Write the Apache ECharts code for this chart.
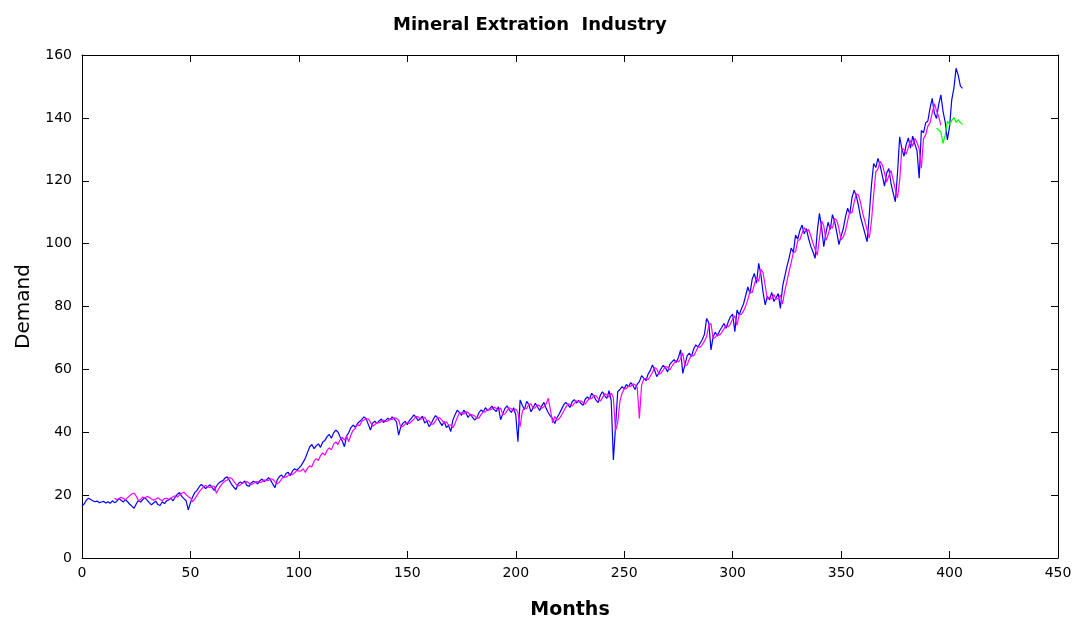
<!DOCTYPE html>
<html>
<head>
<meta charset="utf-8">
<script src="https://cdn.jsdelivr.net/npm/echarts@6/dist/echarts.min.js"></script>
<style>
html,body{margin:0;padding:0;background:#fff;}
#chart{width:1078px;height:621px;}
</style>
</head>
<body>
<div id="chart"></div>
<script>
// Actual demand (blue), months 0..406
const actualStart = 0;
const actual = [
16.5,17.2,18.4,19.0,18.6,18.2,17.9,18.1,17.6,17.8,
18.0,17.5,17.9,17.4,18.2,17.6,18.0,18.9,18.4,17.8,
18.6,17.9,17.1,16.5,15.8,17.2,18.3,17.8,18.6,19.2,
18.4,17.6,16.9,17.5,18.1,17.0,16.7,17.9,17.3,18.2,
18.5,19.0,18.2,19.4,20.3,20.8,19.6,18.9,18.2,15.3,
17.6,19.4,20.8,21.5,22.6,23.4,22.8,22.1,22.7,23.3,
22.4,21.5,22.9,23.8,24.3,24.6,25.5,25.8,24.6,23.4,
22.5,21.8,23.6,24.2,23.7,24.5,23.1,22.8,23.9,24.4,
24.1,23.6,24.6,25.1,24.3,24.8,25.6,24.7,23.5,22.4,
24.8,25.9,26.4,25.5,26.8,27.3,26.2,27.6,28.4,27.9,
28.6,29.4,30.5,31.8,33.6,35.4,36.1,34.8,35.7,36.3,
35.2,36.9,37.4,38.6,39.3,38.1,39.8,40.7,40.1,38.6,
37.2,35.4,38.8,39.9,41.5,42.3,41.6,42.8,43.4,44.1,
44.9,44.3,42.5,40.7,42.9,43.5,42.8,43.6,44.2,43.1,
43.8,44.5,43.9,44.9,44.2,43.3,39.1,41.8,42.9,43.5,
42.4,43.8,44.6,45.5,44.8,43.7,44.3,45.1,42.9,43.6,
41.8,42.7,44.2,45.3,44.6,43.2,42.1,43.4,41.5,42.2,
40.2,43.9,45.6,47.0,46.3,45.4,47.0,46.2,44.7,45.8,
44.8,43.9,44.5,46.2,47.1,46.5,47.8,46.9,47.5,48.3,
47.2,46.6,48.1,44.0,45.9,47.6,48.4,47.1,46.3,47.8,
45.5,37.0,50.3,48.6,47.2,49.8,48.9,46.5,47.8,49.2,
48.1,46.9,48.4,49.5,47.6,46.2,45.1,44.3,42.8,44.6,
45.8,47.2,48.6,49.5,48.8,47.9,49.7,50.4,49.3,50.1,
49.2,48.6,50.5,51.2,50.6,52.4,51.5,50.2,49.4,51.8,
52.9,51.6,50.8,53.2,50.1,31.2,41.8,52.9,53.6,54.5,
53.8,55.2,54.4,55.8,54.9,53.6,55.3,56.1,58.0,57.2,
56.4,58.5,59.6,61.4,59.8,57.7,58.9,60.2,61.3,60.5,
59.2,61.6,62.4,63.1,62.2,63.8,66.2,58.7,61.5,64.3,
65.2,64.1,66.4,67.8,67.1,68.3,69.5,71.2,76.2,74.8,
66.2,70.4,71.8,70.6,72.3,73.4,74.6,73.1,75.2,76.8,
77.6,72.0,78.9,77.4,79.2,80.8,83.5,86.2,84.1,88.7,
90.5,87.4,93.7,90.2,84.6,80.5,83.2,82.1,84.5,81.6,
82.8,84.1,79.4,86.3,89.5,92.7,95.4,98.6,97.2,102.7,
101.4,104.2,105.9,103.1,104.8,101.6,99.2,97.4,95.3,103.8,
109.6,105.2,99.0,103.4,106.8,104.5,109.2,107.1,103.6,99.7,
102.4,104.8,108.5,111.3,109.4,114.6,117.0,115.2,112.1,108.3,
105.8,103.2,100.6,109.4,118.7,125.5,124.2,127.1,124.8,121.6,
118.3,122.5,123.9,119.2,116.1,113.3,122.4,134.0,130.2,127.8,
131.5,133.6,130.4,134.2,131.7,129.5,120.8,136.0,135.2,138.4,
139.0,143.1,146.2,141.5,139.8,144.3,147.3,142.1,138.6,133.0,
137.2,145.7,149.4,155.8,153.6,150.1,149.4
];

// Fitted demand (magenta), months 15..396
const fittedStart = 15;
const fitted = [
19.0,18.6,18.9,19.3,19.0,18.5,
19.2,19.8,20.4,20.6,19.7,18.2,18.6,19.4,19.1,19.6,
19.3,18.8,18.4,18.7,19.2,18.6,18.2,18.9,19.0,18.7,
19.1,19.5,19.8,19.4,20.1,20.6,20.9,20.2,19.5,19.1,
17.9,18.8,19.9,21.0,21.8,22.6,23.1,22.6,22.4,22.9,
22.8,20.6,22.0,23.1,23.9,24.5,24.8,25.6,25.3,24.4,
23.5,22.9,23.2,24.0,24.1,24.3,23.8,23.3,23.7,24.2,
24.3,24.0,24.2,24.8,24.6,24.7,25.2,25.0,24.2,23.6,
24.1,25.1,25.8,25.7,26.2,26.9,26.5,27.1,27.8,27.7,
27.6,28.4,27.2,28.6,29.3,29.0,30.8,31.6,31.0,32.6,
33.4,32.7,34.3,35.0,34.4,36.2,36.9,36.1,37.6,38.4,
37.5,38.8,37.0,39.2,40.6,41.2,42.5,42.1,43.5,43.9,
44.2,44.3,43.2,41.9,42.4,43.1,43.0,43.4,43.9,43.4,
43.6,44.2,44.0,44.6,44.4,43.8,41.6,41.9,42.6,43.2,
42.8,43.5,44.2,45.0,44.9,44.2,44.3,44.8,43.6,43.6,
42.6,42.6,43.6,44.7,44.6,43.8,42.9,43.3,42.3,42.3,
41.4,42.9,44.6,46.1,46.2,45.8,46.5,46.3,45.4,45.6,
45.2,44.5,44.5,45.6,46.5,46.5,47.3,47.1,47.4,48.0,
47.6,47.0,47.7,45.6,45.8,46.9,47.8,47.4,46.8,47.4,
46.3,41.8,46.5,47.9,47.5,48.9,49.0,47.6,47.8,48.7,
48.4,47.6,48.1,49.0,50.8,47.0,43.0,45.0,43.8,44.3,
45.3,46.6,47.9,49.0,48.9,48.3,49.2,50.0,49.6,50.0,
49.5,48.9,50.0,50.8,50.7,51.7,51.6,50.7,49.9,51.0,
52.2,51.9,51.2,52.5,51.0,40.5,43.0,49.8,52.4,53.8,
53.9,54.7,54.6,55.4,55.1,54.2,44.4,54.9,56.9,57.1,
56.7,57.8,59.0,60.6,60.1,58.5,58.8,59.8,60.9,60.7,
59.8,61.0,62.0,62.8,62.4,63.3,65.2,61.1,61.4,63.2,
64.5,64.3,65.6,67.1,67.1,67.9,69.0,70.4,73.9,74.6,
69.8,70.2,71.2,70.9,71.8,72.9,74.0,73.5,74.5,76.0,
77.0,74.0,77.4,77.5,78.6,80.1,82.2,84.9,84.4,87.0,
89.2,88.0,91.8,90.8,86.6,82.3,83.0,82.4,83.8,82.3,
82.6,83.6,80.8,84.9,88.0,91.2,94.0,97.2,97.4,100.9,
101.3,103.3,105.1,103.8,104.5,102.5,100.2,98.2,96.3,101.6,
107.2,105.7,101.1,102.8,105.6,104.9,108.0,107.4,104.8,101.2,
102.1,104.0,107.2,110.2,109.7,113.1,115.9,115.4,113.0,109.6,
107.0,104.3,101.8,107.2,115.4,122.8,123.8,126.2,125.1,122.6,
119.6,121.6,123.3,120.3,117.2,114.6,120.1,130.2,130.0,128.4,
130.6,132.8,131.0,133.5,132.1,130.2,124.0,133.4,134.6,137.4,
138.4,141.5,144.5,142.3,140.4,137.6
];

// Forecast (green), months 394..406
const forecastStart = 394;
const forecast = [136.7,136.2,135.5,131.9,134.5,139.0,137.8,139.2,140.1,138.6,139.4,138.5,137.9];

const xTicks = [0,50,100,150,200,250,300,350,400,450];
const yTicks = [0,20,40,60,80,100,120,140,160];

function pairs(start, arr){ return arr.map((v,i)=>[start+i, v]); }

const FONT = 'DejaVu Sans, Liberation Sans, Arial, sans-serif';
const chart = echarts.init(document.getElementById('chart'), null, {renderer:'canvas'});
const axisFont = {fontFamily:FONT, fontSize:14, color:'#000'};
const lineStyleAx = {color:'#000', width:1};

chart.setOption({
  animation:false,
  backgroundColor:'#fff',
  title:{
    text:'Mineral Extration  Industry',
    left:388, top:11,
    textStyle:{fontFamily:FONT, fontSize:18, fontWeight:'bold', color:'#000'}
  },
  grid:{left:82, right:20, top:55, bottom:63, containLabel:false, outerBoundsMode:'none'},
  xAxis:[{
    type:'value', min:xTicks[0], max:xTicks[xTicks.length-1], interval:50, position:'bottom',
    name:'Months', nameLocation:'middle', nameGap:43,
    nameTextStyle:{fontFamily:FONT, fontSize:19, fontWeight:'bold', color:'#000'},
    axisLine:{show:true, onZero:false, lineStyle:lineStyleAx},
    axisTick:{show:true, inside:true, length:7, lineStyle:lineStyleAx},
    axisLabel:Object.assign({margin:8}, axisFont),
    splitLine:{show:false}
  },{
    type:'value', min:xTicks[0], max:xTicks[xTicks.length-1], interval:50, position:'top',
    axisLine:{show:true, onZero:false, lineStyle:lineStyleAx},
    axisTick:{show:true, inside:true, length:7, lineStyle:lineStyleAx},
    axisLabel:{show:false}, splitLine:{show:false}
  }],
  yAxis:[{
    type:'value', min:yTicks[0], max:yTicks[yTicks.length-1], interval:20, position:'left',
    name:'Demand', nameLocation:'middle', nameGap:48, nameRotate:90,
    nameTextStyle:{fontFamily:FONT, fontSize:20, color:'#000'},
    axisLine:{show:true, onZero:false, lineStyle:lineStyleAx},
    axisTick:{show:true, inside:true, length:7, lineStyle:lineStyleAx},
    axisLabel:Object.assign({margin:10}, axisFont),
    splitLine:{show:false}
  },{
    type:'value', min:yTicks[0], max:yTicks[yTicks.length-1], interval:20, position:'right',
    axisLine:{show:true, onZero:false, lineStyle:lineStyleAx},
    axisTick:{show:true, inside:true, length:7, lineStyle:lineStyleAx},
    axisLabel:{show:false}, splitLine:{show:false}
  }],
  series:[
    {type:'line', data:pairs(actualStart, actual), showSymbol:false, symbol:'none',
     lineStyle:{color:'#0000ff', width:1.2}, z:2},
    {type:'line', data:pairs(fittedStart, fitted), showSymbol:false, symbol:'none',
     lineStyle:{color:'#ff00ff', width:1.2}, z:3},
    {type:'line', data:pairs(forecastStart, forecast), showSymbol:false, symbol:'none',
     lineStyle:{color:'#00ff00', width:1.2}, z:4}
  ]
});
</script>
</body>
</html>
